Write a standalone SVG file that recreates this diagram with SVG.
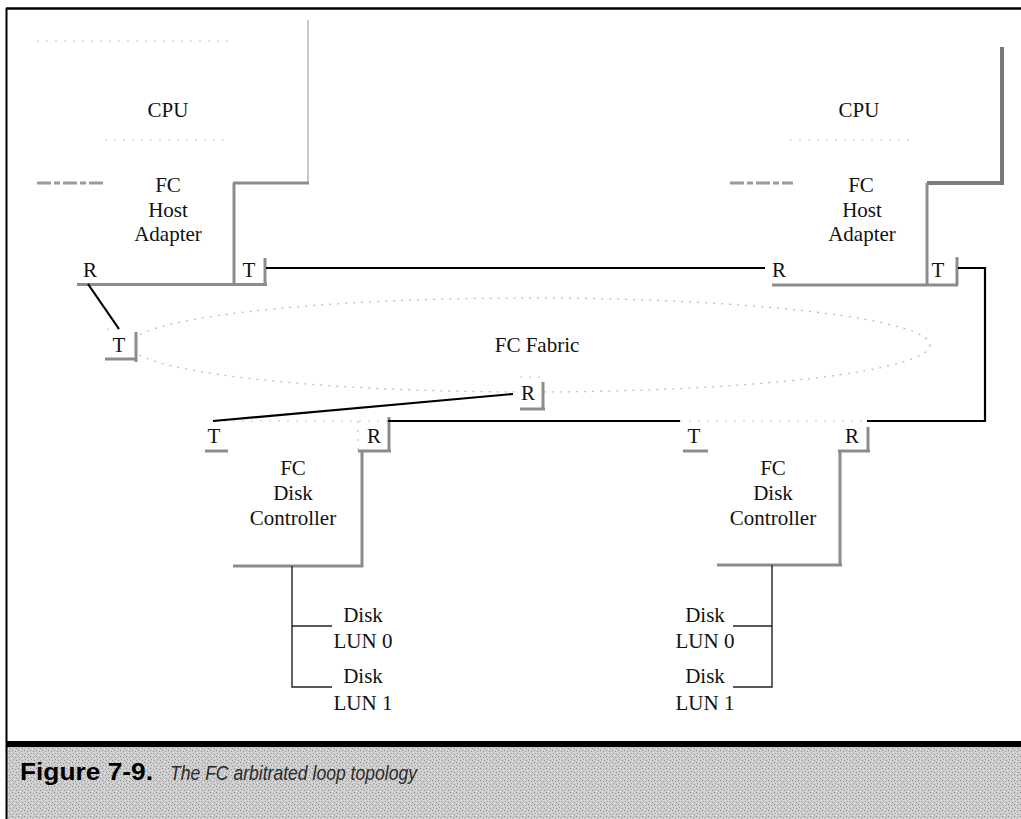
<svg xmlns="http://www.w3.org/2000/svg" width="1021" height="819" viewBox="0 0 1021 819">
<style>
.lbl{font-family:"Liberation Serif","Times New Roman",serif;font-size:21px;fill:#111;text-anchor:middle}
.sh{stroke:#8c8c8c;stroke-width:3;fill:none}
.shd{stroke:#7a7a7a;stroke-width:4;fill:none}
.fnt{stroke:#c4c4c4;stroke-width:1.2;fill:none;stroke-dasharray:2 7}
.dash{stroke:#9a9a9a;stroke-width:3;fill:none;stroke-dasharray:14 3 6 3}
.wire{stroke:#000;stroke-width:2.2;fill:none}
.thin{stroke:#222;stroke-width:1.4;fill:none}
</style>
<defs>
  <pattern id="stipple" width="6" height="6" patternUnits="userSpaceOnUse">
    <rect width="6" height="6" fill="#cdcdcd"/>
    <rect x="0" y="0" width="1" height="1" fill="#8a8a8a"/>
    <rect x="3" y="1" width="1" height="1" fill="#9a9a9a"/>
    <rect x="1" y="3" width="1" height="1" fill="#a0a0a0"/>
    <rect x="4" y="4" width="1" height="1" fill="#909090"/>
    <rect x="2" y="5" width="1" height="1" fill="#e6e6e6"/>
    <rect x="5" y="2" width="1" height="1" fill="#e0e0e0"/>
  </pattern>
</defs>
<rect x="0" y="0" width="1021" height="819" fill="#fff"/>
<g id="frame">
  <line x1="6" y1="8.5" x2="1021" y2="8.5" stroke="#000" stroke-width="2.5"/>
  <rect x="7" y="747" width="1014" height="72" fill="url(#stipple)"/>
  <line x1="6.5" y1="8" x2="6.5" y2="819" stroke="#000" stroke-width="2"/>
  <rect x="6" y="741" width="1015" height="6" fill="#000"/>
</g>
<g id="caption">
  <text x="20" y="780" font-family="'Liberation Sans',Arial,sans-serif" font-weight="bold" font-size="24" fill="#000" textLength="133" lengthAdjust="spacingAndGlyphs">Figure 7-9.</text>
  <text x="170" y="780" font-family="'Liberation Sans',Arial,sans-serif" font-style="italic" font-size="21" fill="#2a2a2a" textLength="247" lengthAdjust="spacingAndGlyphs">The FC arbitrated loop topology</text>
</g>
<g id="host-left">
  <line class="fnt" x1="37" y1="41" x2="230" y2="41"/>
  <line class="fnt" x1="105" y1="140" x2="225" y2="140"/>
  <line stroke="#c8c8c8" stroke-width="2" x1="308" y1="20" x2="308" y2="183"/>
  <line class="sh" x1="233" y1="183" x2="309" y2="183"/>
  <line class="dash" x1="37" y1="183" x2="105" y2="183"/>
  <line class="sh" x1="234" y1="183" x2="234" y2="284"/>
  <line class="sh" x1="77" y1="284.5" x2="267" y2="284.5"/>
  <line class="sh" x1="265" y1="258" x2="265" y2="286"/>
  <text class="lbl" x="168" y="117">CPU</text>
  <text class="lbl" x="168" y="192">FC</text>
  <text class="lbl" x="168" y="217">Host</text>
  <text class="lbl" x="168" y="241">Adapter</text>
  <text class="lbl" x="90" y="277">R</text>
  <text class="lbl" x="249" y="277">T</text>
</g>
<g id="host-right">
  <line class="fnt" x1="790" y1="140" x2="915" y2="140"/>
  <line class="shd" x1="1002" y1="47" x2="1002" y2="183"/>
  <line class="shd" x1="927" y1="183" x2="1004" y2="183"/>
  <line class="dash" x1="730" y1="183" x2="793" y2="183"/>
  <line class="sh" x1="927" y1="183" x2="927" y2="285"/>
  <line class="sh" x1="772" y1="285" x2="958" y2="285"/>
  <line class="sh" x1="957" y1="257" x2="957" y2="285"/>
  <text class="lbl" x="859" y="117">CPU</text>
  <text class="lbl" x="861" y="192">FC</text>
  <text class="lbl" x="862" y="217">Host</text>
  <text class="lbl" x="862" y="241">Adapter</text>
  <text class="lbl" x="779" y="277">R</text>
  <text class="lbl" x="938" y="277">T</text>
</g>
<g id="fabric">
  <ellipse cx="530" cy="345" rx="400" ry="47" fill="none" stroke="#bdbdbd" stroke-width="1.3" stroke-dasharray="2 6"/>
  <text class="lbl" x="537" y="352">FC Fabric</text>
  <rect x="105" y="329" width="31" height="31" fill="#fff"/>
  <line class="fnt" x1="107" y1="329" x2="122" y2="329"/>
  <line class="sh" x1="136" y1="332" x2="136" y2="362"/>
  <line class="sh" x1="105" y1="359" x2="137" y2="359"/>
  <text class="lbl" x="119" y="352">T</text>
  <rect x="518" y="377" width="25" height="32" fill="#fff"/>
  <line class="fnt" x1="520" y1="377" x2="542" y2="377"/>
  <line class="sh" x1="543" y1="382" x2="543" y2="410"/>
  <line class="sh" x1="520" y1="409" x2="545" y2="409"/>
  <text class="lbl" x="528" y="400">R</text>
</g>
<g id="disk-controller-left">
  <line class="fnt" x1="215" y1="421" x2="388" y2="421"/>
  <line class="fnt" x1="358" y1="421" x2="358" y2="451"/>
  <line class="sh" x1="205" y1="451" x2="228" y2="451"/>
  <line class="sh" x1="389" y1="417" x2="389" y2="452"/>
  <line class="sh" x1="358" y1="451" x2="391" y2="451"/>
  <line class="sh" x1="362" y1="451" x2="362" y2="567"/>
  <line class="sh" x1="233" y1="566" x2="363" y2="566"/>
  <text class="lbl" x="214" y="443">T</text>
  <text class="lbl" x="374" y="443">R</text>
  <text class="lbl" x="293" y="475">FC</text>
  <text class="lbl" x="293" y="500">Disk</text>
  <text class="lbl" x="293" y="525">Controller</text>
</g>
<g id="disk-controller-right">
  <line class="fnt" x1="680" y1="421" x2="867" y2="421"/>
  <line class="sh" x1="683" y1="451" x2="708" y2="451"/>
  <line class="sh" x1="868" y1="427" x2="868" y2="452"/>
  <line class="sh" x1="838" y1="451" x2="870" y2="451"/>
  <line class="sh" x1="840" y1="451" x2="840" y2="566"/>
  <line class="sh" x1="717" y1="565" x2="842" y2="565"/>
  <text class="lbl" x="694" y="443">T</text>
  <text class="lbl" x="852" y="443">R</text>
  <text class="lbl" x="773" y="475">FC</text>
  <text class="lbl" x="773" y="500">Disk</text>
  <text class="lbl" x="773" y="525">Controller</text>
</g>
<g id="disks-left">
  <text class="lbl" x="363" y="622">Disk</text>
  <text class="lbl" x="363" y="648">LUN 0</text>
  <text class="lbl" x="363" y="683">Disk</text>
  <text class="lbl" x="363" y="710">LUN 1</text>
</g>
<g id="disks-right">
  <text class="lbl" x="705" y="622">Disk</text>
  <text class="lbl" x="705" y="648">LUN 0</text>
  <text class="lbl" x="705" y="683">Disk</text>
  <text class="lbl" x="705" y="710">LUN 1</text>
</g>
<g id="connectors">
  <line class="wire" x1="266" y1="268" x2="765" y2="268"/>
  <line class="wire" stroke-width="2.6" x1="88" y1="284" x2="119" y2="329"/>
  <line class="wire" stroke-width="2.6" x1="513" y1="394" x2="213" y2="421"/>
  <line class="wire" x1="388" y1="421" x2="680" y2="421"/>
  <polyline class="wire" points="958,268 985,268 985,421 867,421"/>
  <polyline class="thin" points="292,566 292,687 332,687"/>
  <line class="thin" x1="292" y1="626" x2="332" y2="626"/>
  <polyline class="thin" points="772,565 772,687 733,687"/>
  <line class="thin" x1="772" y1="626" x2="733" y2="626"/>
</g>
</svg>
